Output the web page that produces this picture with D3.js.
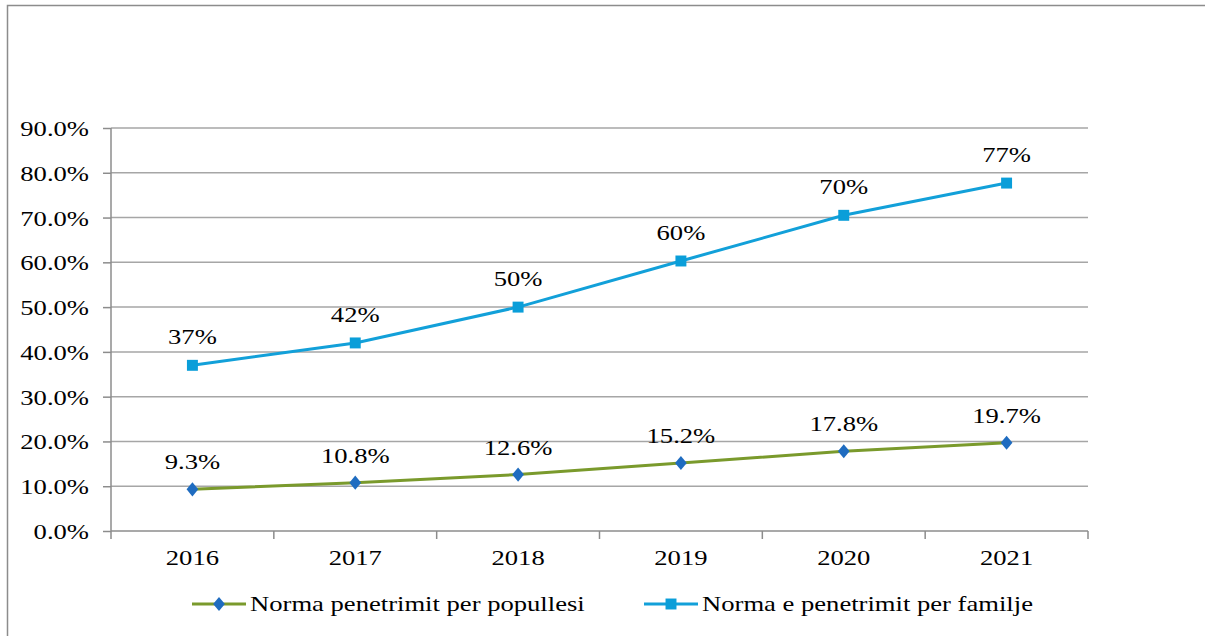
<!DOCTYPE html>
<html>
<head>
<meta charset="utf-8">
<script src="https://cdn.jsdelivr.net/npm/d3@7"></script>
<style>
  body { margin: 0; background: #fff; }
  text { font-family: "Liberation Serif", "Times New Roman", serif; fill: #000; }
</style>
</head>
<body>
<div class="chart"></div>
<script>
// Chart data
var years = ["2016", "2017", "2018", "2019", "2020", "2021"];
var populationRate = [0.093, 0.108, 0.126, 0.152, 0.178, 0.197];
var populationLabels = ["9.3%", "10.8%", "12.6%", "15.2%", "17.8%", "19.7%"];
var familyRate = [0.37, 0.42, 0.50, 0.603, 0.705, 0.777];
var familyLabels = ["37%", "42%", "50%", "60%", "70%", "77%"];
var yTicks = [0, 0.1, 0.2, 0.3, 0.4, 0.5, 0.6, 0.7, 0.8, 0.9];
var seriesNames = ["Norma penetrimit per popullesi", "Norma e penetrimit per familje"];

var svgWidth = 1205;
var svgHeight = 636;

var chartMargin = { top: 128, right: 117, bottom: 105, left: 111 };
var chartWidth = svgWidth - chartMargin.left - chartMargin.right;
var chartHeight = svgHeight - chartMargin.top - chartMargin.bottom;

var stretch = 1.21; // the source font is drawn a bit wide

var svg = d3.select(".chart")
  .append("svg")
  .attr("width", svgWidth)
  .attr("height", svgHeight);

// outer frame
svg.append("rect")
  .attr("x", 7.5).attr("y", 5.5)
  .attr("width", 1210).attr("height", 640)
  .attr("fill", "none")
  .attr("stroke", "#8c8c8c")
  .attr("stroke-width", 1.5);

var chartGroup = svg.append("g")
  .attr("transform", `translate(${chartMargin.left}, ${chartMargin.top})`);

var xBandScale = d3.scaleBand()
  .domain(years)
  .range([0, chartWidth]);

var yLinearScale = d3.scaleLinear()
  .domain([0, 0.9])
  .range([chartHeight, 0]);

function wideText(sel, x, y) {
  sel.attr("transform", `translate(${x}, ${y}) scale(${stretch}, 1)`);
}

// gridlines
chartGroup.selectAll(".grid")
  .data(yTicks.slice(1))
  .enter()
  .append("line")
  .attr("x1", 0)
  .attr("x2", chartWidth)
  .attr("y1", d => yLinearScale(d))
  .attr("y2", d => yLinearScale(d))
  .attr("stroke", "#a6a6a6")
  .attr("stroke-width", 1.5);

// left axis
var leftAxis = d3.axisLeft(yLinearScale)
  .tickValues(yTicks)
  .tickSize(8)
  .tickPadding(14)
  .tickFormat(d3.format(".1%"));

var yAxisGroup = chartGroup.append("g").call(leftAxis);
yAxisGroup.select(".domain").remove();
yAxisGroup.append("line")
  .attr("x1", 0).attr("x2", 0)
  .attr("y1", 0).attr("y2", chartHeight)
  .attr("stroke", "#8c8c8c").attr("stroke-width", 1.5);
yAxisGroup.selectAll(".tick line").attr("stroke", "#8c8c8c").attr("stroke-width", 1.5);
yAxisGroup.selectAll(".tick text")
  .attr("font-size", 22)
  .attr("x", null)
  .attr("dy", "0.34em")
  .each(function() {
    d3.select(this).attr("transform", `translate(-22, 0) scale(${stretch}, 1)`);
  });

// bottom axis with ticks on category boundaries
var xAxisGroup = chartGroup.append("g")
  .attr("transform", `translate(0, ${chartHeight})`);
xAxisGroup.append("line")
  .attr("x1", 0).attr("x2", chartWidth)
  .attr("stroke", "#8c8c8c").attr("stroke-width", 1.5);
xAxisGroup.selectAll(".bound")
  .data(years.concat(["end"]))
  .enter()
  .append("line")
  .attr("x1", (d, i) => i * xBandScale.step())
  .attr("x2", (d, i) => i * xBandScale.step())
  .attr("y1", 0).attr("y2", 8)
  .attr("stroke", "#8c8c8c").attr("stroke-width", 1.5);
xAxisGroup.selectAll(".year")
  .data(years)
  .enter()
  .append("text")
  .attr("text-anchor", "middle")
  .attr("font-size", 22)
  .each(function(d) {
    wideText(d3.select(this), xBandScale(d) + xBandScale.bandwidth() / 2, 34);
  })
  .text(d => d);

var cx = d => xBandScale(d) + xBandScale.bandwidth() / 2;

function drawSeries(values, labels, color, markerColor, markerType, labelOffset) {
  var line = d3.line()
    .x((d, i) => cx(years[i]))
    .y(d => yLinearScale(d));

  chartGroup.append("path")
    .datum(values)
    .attr("fill", "none")
    .attr("stroke", color)
    .attr("stroke-width", 3)
    .attr("d", line);

  chartGroup.selectAll(null)
    .data(values)
    .enter()
    .append("path")
    .attr("d", d3.symbol().type(markerType).size(markerType === d3.symbolSquare ? 120 : 90))
    .attr("transform", (d, i) => `translate(${cx(years[i])}, ${yLinearScale(d)})` +
      (markerType === d3.symbolDiamond ? " scale(1.15, 0.8)" : ""))
    .attr("fill", markerColor);

  chartGroup.selectAll(null)
    .data(values)
    .enter()
    .append("text")
    .attr("text-anchor", "middle")
    .attr("font-size", 22)
    .each(function(d, i) {
      wideText(d3.select(this), cx(years[i]), yLinearScale(d) - labelOffset);
    })
    .text((d, i) => labels[i]);
}

drawSeries(populationRate, populationLabels, "#7a9a2c", "#1f6cc0", d3.symbolDiamond, 20);
drawSeries(familyRate, familyLabels, "#12a0d9", "#0a9ed9", d3.symbolSquare, 21);

// legend
var legendItems = [
  { name: seriesNames[0], color: "#7a9a2c", marker: "#1f6cc0", type: d3.symbolDiamond, x: 192 },
  { name: seriesNames[1], color: "#12a0d9", marker: "#0a9ed9", type: d3.symbolSquare, x: 644 }
];
var legendY = 604;
var legend = svg.selectAll(".legend")
  .data(legendItems)
  .enter()
  .append("g")
  .attr("transform", d => `translate(${d.x}, ${legendY})`);

legend.append("line")
  .attr("x1", 0).attr("x2", 54)
  .attr("stroke", d => d.color)
  .attr("stroke-width", 3);
legend.append("path")
  .attr("d", d => d3.symbol().type(d.type).size(d.type === d3.symbolSquare ? 120 : 90)())
  .attr("transform", d => "translate(27, 0)" + (d.type === d3.symbolDiamond ? " scale(1.15, 0.8)" : ""))
  .attr("fill", d => d.marker);
legend.append("text")
  .attr("font-size", 22)
  .attr("dy", "0.34em")
  .attr("transform", `translate(58, 0) scale(${stretch}, 1)`)
  .text(d => d.name);
</script>
</body>
</html>
